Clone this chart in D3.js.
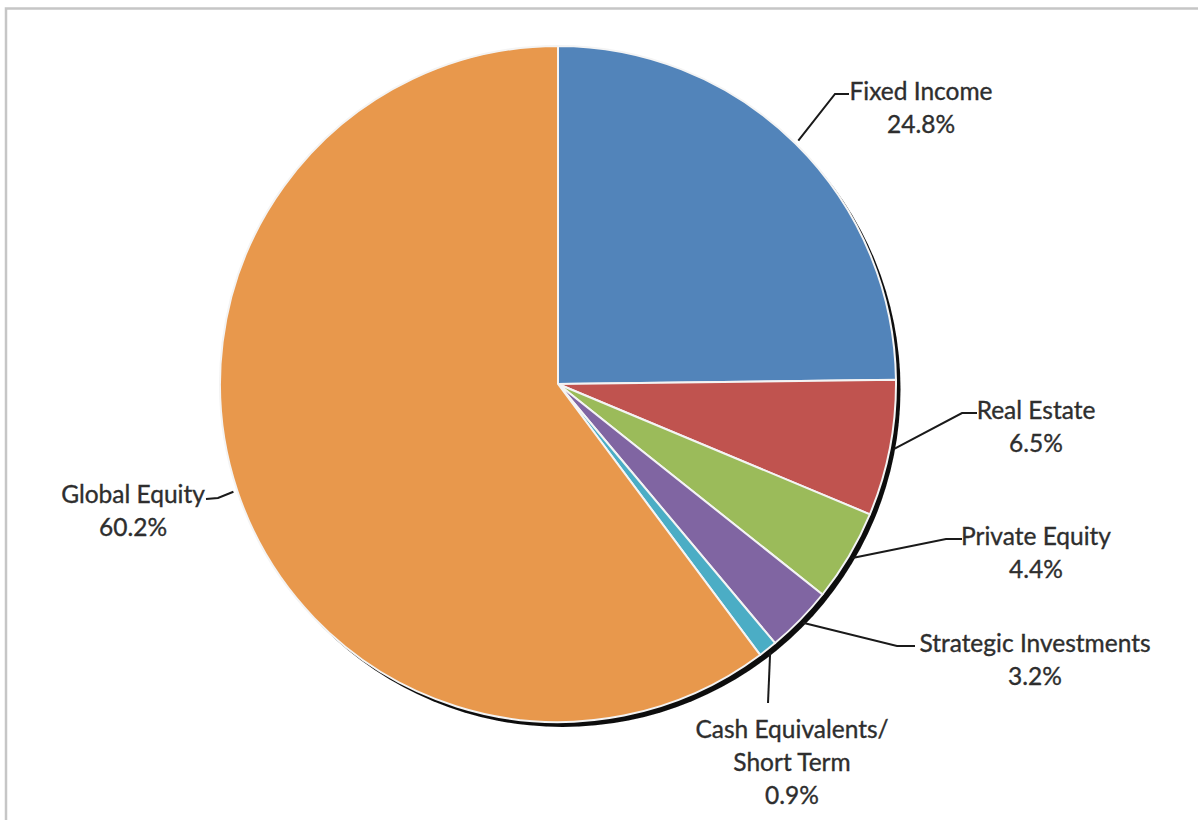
<!DOCTYPE html>
<html>
<head>
<meta charset="utf-8">
<script src="https://cdn.jsdelivr.net/npm/d3@7"></script>
<style>
  body { margin: 0; background: #fff; }
  svg { display: block; }
</style>
</head>
<body>
<div id="chart"></div>
<script>
// data
const categories = ["Fixed Income", "Real Estate", "Private Equity", "Strategic Investments", "Cash Equivalents/ Short Term", "Global Equity"];
const values = [24.8, 6.5, 4.4, 3.2, 0.9, 60.2];
const labelLines = [["Fixed Income"], ["Real Estate"], ["Private Equity"], ["Strategic Investments"], ["Cash Equivalents/", "Short Term"], ["Global Equity"]];
const colors = ["#5284ba", "#c0534f", "#9bbb5a", "#8065a2", "#4badc5", "#e8984c"];

// label layout: elbow point, end of short horizontal, text centre x, first baseline
const layout = [
  { elbow: [835, 94], end: [849, 94], tx: 921, ty: 100 },
  { elbow: [962, 413], end: [977, 413], tx: 1036, ty: 419 },
  { elbow: [946, 539], end: [962, 539], tx: 1036, ty: 545 },
  { elbow: [897, 646], end: [915, 646], tx: 1035, ty: 652 },
  { elbow: [768, 703], end: [768, 703], tx: 792, ty: 738 },
  { elbow: [218, 498], end: [206, 499], tx: 133, ty: 503 }
];

const width = 1198, height = 820;
const cx = 558, cy = 384, R = 338;

const svg = d3.select("#chart").append("svg")
  .attr("width", width)
  .attr("height", height);

// frame
svg.append("path")
  .attr("d", `M6,${height + 5} L6,8.5 L${width + 5},8.5`)
  .attr("fill", "none")
  .attr("stroke", "#c6c6c6")
  .attr("stroke-width", 2.5);

const defs = svg.append("defs");
defs.append("filter").attr("id", "blur")
  .append("feGaussianBlur").attr("stdDeviation", 0.6);

const g = svg.append("g").attr("transform", `translate(${cx},${cy})`);

const pie = d3.pie().sort(null).value(d => d.value);
const data = categories.map((c, i) => ({ name: c, value: values[i], i }));
const arcs = pie(data);
const arc = d3.arc().innerRadius(0).outerRadius(R);

// shadow
g.append("circle")
  .attr("cx", 4.5).attr("cy", 5)
  .attr("r", R)
  .attr("fill", "#0d0d0d")
  .attr("filter", "url(#blur)");

g.selectAll("path.slice")
  .data(arcs)
  .enter().append("path")
    .attr("class", "slice")
    .attr("d", arc)
    .attr("fill", d => colors[d.data.i])
    .attr("stroke", "#f4f4f4")
    .attr("stroke-width", 2)
    .attr("stroke-linejoin", "round");

// leader lines
const lines = svg.append("g")
  .attr("fill", "none")
  .attr("stroke", "#1a1a1a")
  .attr("stroke-width", 2);

arcs.forEach((d, i) => {
  const a = (d.startAngle + d.endAngle) / 2;
  const rr = R + 4;
  const sx = cx + rr * Math.sin(a), sy = cy - rr * Math.cos(a);
  const L = layout[i];
  lines.append("path")
    .attr("d", `M${sx},${sy} L${L.elbow[0]},${L.elbow[1]} L${L.end[0]},${L.end[1]}`);
});

// labels
const labels = svg.append("g")
  .attr("font-family", "Lato, 'Open Sans', sans-serif")
  .attr("font-size", 24.5)
  .attr("fill", "#2e2e2e")
  .attr("stroke", "#2e2e2e")
  .attr("stroke-width", 0.35)
  .attr("text-anchor", "middle");

arcs.forEach((d, i) => {
  const L = layout[i];
  const t = labels.append("text");
  const rows = labelLines[i].concat([d3.format(".1f")(d.data.value) + "%"]);
  rows.forEach((r, k) => {
    t.append("tspan")
      .attr("x", L.tx)
      .attr("y", L.ty + k * 33)
      .text(r);
  });
});
</script>
</body>
</html>
